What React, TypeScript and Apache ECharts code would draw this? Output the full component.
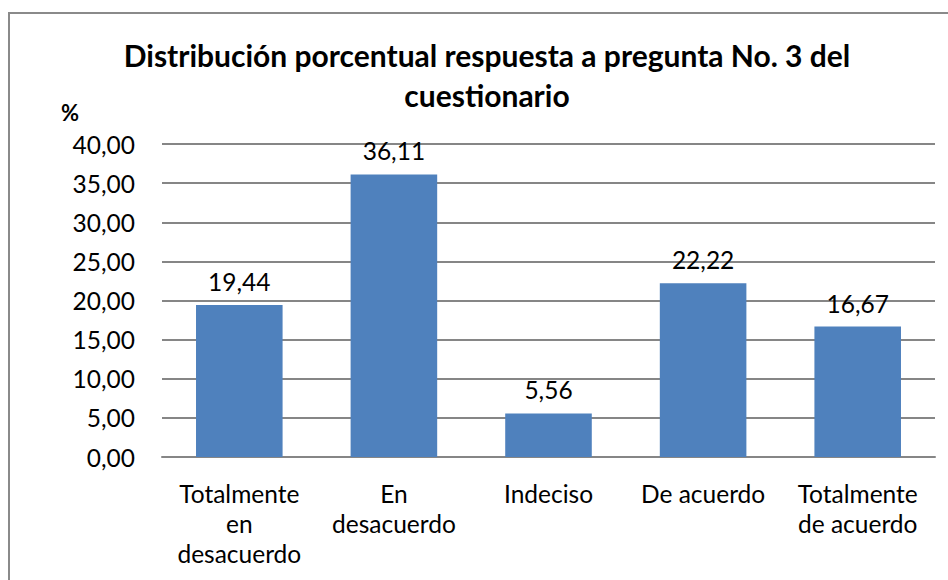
import React, { useEffect, useRef } from "react";
import * as echarts from "echarts";

const categories = [
  "Totalmente\nen\ndesacuerdo",
  "En\ndesacuerdo",
  "Indeciso",
  "De acuerdo",
  "Totalmente\nde acuerdo",
];
const values = [19.44, 36.11, 5.56, 22.22, 16.67];
const titleText = "Distribución porcentual respuesta a pregunta No. 3 del\ncuestionario";
const yUnit = "%";

const FONT = "Lato, 'Open Sans', sans-serif";
const fmt = (v: number) => v.toFixed(2).replace(".", ",");

export default function App() {
  const ref = useRef<HTMLDivElement>(null);
  useEffect(() => {
    if (!ref.current) return;
    const chart = echarts.init(ref.current, null, { renderer: "svg" });
    chart.setOption({
      animation: false,
      backgroundColor: "#ffffff",
      graphic: [
        {
          type: "rect",
          shape: { x: 9, y: 13, width: 960, height: 600 },
          style: { fill: "none", stroke: "#8a8a8a", lineWidth: 2 },
          silent: true,
        },
        {
          type: "text",
          x: 487,
          y: 35,
          style: {
            text: titleText,
            font: "bold 30px " + FONT,
            fill: "#000",
            align: "center",
            verticalAlign: "top",
            lineHeight: 40,
          },
        },
        {
          type: "text",
          x: 61,
          y: 101,
          style: { text: yUnit, font: "bold 22px " + FONT, fill: "#000" },
        },
      ],
      grid: { left: 162, right: 13, top: 144, bottom: 123, containLabel: false },
      xAxis: {
        type: "category",
        data: categories,
        axisLine: { show: true, lineStyle: { color: "#868686", width: 2 } },
        axisTick: { show: false },
        axisLabel: {
          interval: 0,
          margin: 21,
          fontFamily: FONT,
          fontSize: 24.5,
          lineHeight: 30,
          color: "#000",
          align: "center",
        },
      },
      yAxis: {
        type: "value",
        min: 0,
        max: 40,
        interval: 5,
        axisLine: { show: false },
        axisTick: { show: false },
        splitLine: { lineStyle: { color: "#868686", width: 2 } },
        axisLabel: {
          margin: 27,
          fontFamily: FONT,
          fontSize: 24.5,
          color: "#000",
          formatter: (v: number) => fmt(v),
        },
      },
      series: [
        {
          type: "bar",
          data: values,
          barWidth: "56%",
          itemStyle: { color: "#4F81BD" },
          label: {
            show: true,
            position: "top",
            distance: 11,
            fontFamily: FONT,
            fontSize: 24.5,
            color: "#000",
            formatter: (p: any) => fmt(p.value),
          },
        },
      ],
    });
    return () => chart.dispose();
  }, []);
  return (
    <div
      ref={ref}
      style={{ position: "fixed", left: 0, top: 0, width: 948, height: 580 }}
    />
  );
}
